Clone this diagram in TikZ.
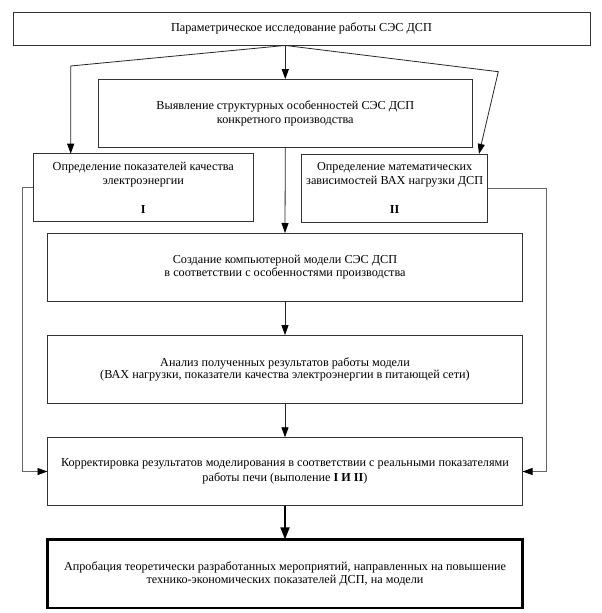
\documentclass[tikz,border=0pt]{standalone}
\usepackage{fontspec}
\setmainfont{Liberation Serif}
\usepackage{tikz}
\usetikzlibrary{arrows.meta,positioning,calc}

\tikzset{
    box/.style={draw=black!80, line width=0.8pt, fill=white, inner sep=0pt, outer sep=0pt,
        align=center, font=\fontsize{12.2}{14.5}\selectfont},
    tight/.style={font=\fontsize{12.2}{12.5}\selectfont},
    conn/.style={draw=black!85, line width=0.8pt, -{Triangle[length=10pt,width=7pt,color=black]}},
    feed/.style={draw=black!60, line width=0.8pt, -{Triangle[length=10pt,width=7pt,color=black]}},
}

\begin{document}
\begin{tikzpicture}[x=1pt, y=-1pt]

    \useasboundingbox (0,0) rectangle (602,613);

    % Top
    \node[box, minimum width=577pt, minimum height=33.5pt] (param) at (301.5,28.7)
        {Параметрическое исследование работы СЭС ДСП};

    % Second row
    \node[box, minimum width=374pt, minimum height=68.3pt] (struct) at (285.3,113.2)
        {Выявление структурных особенностей СЭС ДСП\\конкретного производства};

    % I and II
    \node[box, minimum width=220pt, minimum height=68pt] (pq) at (143.3,187.7)
        {Определение показателей качества\\электроэнергии\\[14.5pt]\textbf{I}};
    \node[box, minimum width=186pt, minimum height=68pt] (vax) at (394.7,187.9)
        {Определение математических\\зависимостей ВАХ нагрузки ДСП\\[14.5pt]\textbf{II}};

    % Main column
    \node[box, tight, minimum width=475pt, minimum height=68pt] (model) at (285,267)
        {Создание компьютерной модели СЭС ДСП\\в соответствии с особенностями производства};
    \node[box, tight, minimum width=475pt, minimum height=68.3pt] (anal) at (285,369.2)
        {Анализ полученных результатов работы модели\\(ВАХ нагрузки, показатели качества электроэнергии в питающей сети)};
    \node[box, minimum width=475pt, minimum height=68.4pt] (corr) at (285,471.5)
        {Корректировка результатов моделирования в соответствии с реальными показателями\\работы печи (выполение \textbf{I И II})};
    \node[box, tight, line width=2.4pt, draw=black, minimum width=475pt, minimum height=68.5pt] (test) at (285,573.7)
        {Апробация теоретически разработанных мероприятий, направленных на повышение\\технико-экономических показателей ДСП, на модели};

    % Fork from the top box
    \coordinate (fork) at (struct.north |- param.south);
    \coordinate (lbend) at (70.7,66);
    \coordinate (rbend) at (498.3,71.7);
    \coordinate (rtip) at ([xshift=-8.7pt]vax.north east);

    \draw[conn] (fork) -- (struct.north);
    \draw[conn] (fork) -- (lbend) -- (lbend |- pq.north);
    \draw[conn] (fork) -- (rbend) -- (rtip);

    % Down the column
    \draw[conn] (struct.south) -- (model.north);
    \draw[conn] (model.south) -- (anal.north);
    \draw[conn] (anal.south) -- (corr.north);
    \draw[draw=black, line width=1.8pt, -{Triangle[length=12pt,width=9pt]}] (corr.south) -- (test.north);

    % Feedback from I and II
    \draw[feed] (pq.west) -- ++(-10.6,0) |- (corr.west);
    \draw[feed] (vax.east) -- ++(59,0) |- (corr.east);

\end{tikzpicture}
\end{document}
